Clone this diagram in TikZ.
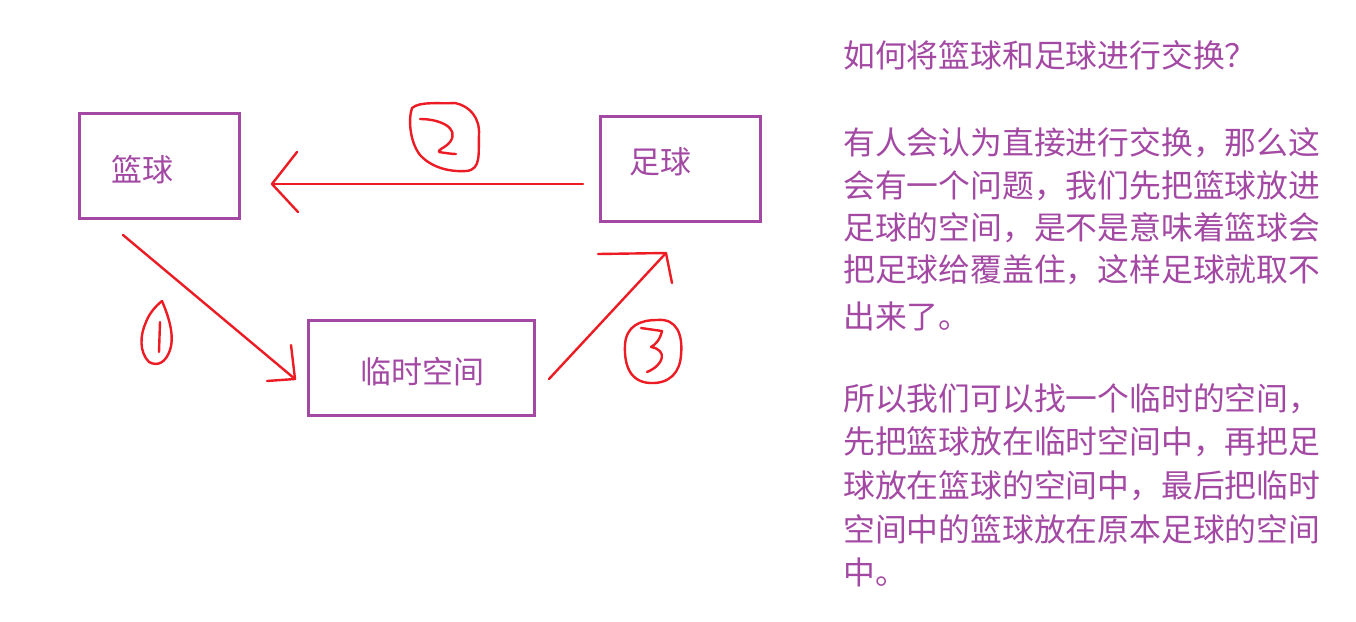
\documentclass[tikz,border=0pt]{standalone}
\usepackage{fontspec}
\newfontfamily\cjk{Noto Sans CJK SC}
\definecolor{pp}{RGB}{163,73,164}
\definecolor{rd}{RGB}{237,28,36}
\begin{document}
\begin{tikzpicture}[x=1pt,y=-1pt,
  box/.style={draw=pp,line width=3pt,inner sep=0pt},
  lbl/.style={text=pp,font=\cjk\fontsize{31}{31}\selectfont,inner sep=0pt},
  para/.style={text=pp,font=\cjk\fontsize{31.8}{32}\selectfont,inner sep=0pt,anchor=west},
  hand/.style={draw=rd,line width=2.4pt,line cap=round,line join=round}]
\useasboundingbox (0,0) rectangle (1356,621);
\fill[white] (0,0) rectangle (1356,621);
% boxes
\node[box,minimum width=160pt,minimum height=105pt] (lq) at (159,165.5) {};
\node[box,minimum width=160pt,minimum height=105pt] (zq) at (680,168.5) {};
\node[box,minimum width=226pt,minimum height=95pt] (ls) at (421,367.5) {};
\node[lbl] (lqt) at (142,170) {篮球};
\node[lbl] (zqt) at (660,162) {足球};
\node[lbl] (lst) at (422,372) {临时空间};
% arrow 2
\coordinate (a2s) at (583,184);
\coordinate (a2e) at (272,184);
\coordinate (a2u) at (297,152);
\coordinate (a2d) at (298,212);
\draw[hand] (a2s) -- (a2e);
\draw[hand] (a2u) -- (a2e) -- (a2d);
% arrow 1
\coordinate (a1s) at (123,235);
\coordinate (a1e) at (295,379);
\coordinate (a1u) at (291,345);
\coordinate (a1l) at (267,381);
\draw[hand] (a1s) -- (a1e);
\draw[hand] (a1u) -- (a1e) -- (a1l);
% arrow 3
\coordinate (a3s) at (549,379);
\coordinate (a3e) at (666,253);
\coordinate (a3l) at (598,254);
\coordinate (a3d) at (672,283);
\draw[hand] (a3s) -- (a3e);
\draw[hand] (a3l) -- (a3e) -- (a3d);
% circled 2
\draw[hand] (455,103) .. controls (470,106) and (480,118) .. (479,135)
  .. controls (478,152) and (482,170) .. (466,171)
  .. controls (450,172) and (432,168) .. (420,155)
  .. controls (410,142) and (408,120) .. (412,108)
  .. controls (420,101) and (440,104) .. (455,103);
\draw[hand] (420,119) .. controls (440,119) and (460,128) .. (450,142)
  .. controls (445,148) and (437,150) .. (439,152)
  .. controls (445,153) and (452,154) .. (456,154);
% circled 1
\draw[hand] (162,301) .. controls (168,315) and (175,335) .. (170,350)
  .. controls (166,362) and (158,367) .. (149,362)
  .. controls (139,352) and (140,335) .. (146,322)
  .. controls (150,312) and (156,306) .. (162,301);
\draw[hand] (160,322) -- (159,352);
% circled 3
\draw[hand] (657,320) .. controls (677,318) and (683,335) .. (681,355)
  .. controls (680,372) and (670,384) .. (650,383)
  .. controls (630,382) and (624,365) .. (625,345)
  .. controls (626,326) and (640,320) .. (657,320);
\draw[hand] (641,328) -- (662,331) .. controls (660,340) and (655,345) .. (651,347)
  .. controls (668,350) and (664,365) .. (647,372);
% paragraph text
\node[para] (t0) at (843,55) {如何将篮球和足球进行交换？};
\node[para] (t1) at (843,143) {有人会认为直接进行交换，那么这};
\node[para] (t2) at (843,186) {会有一个问题，我们先把篮球放进};
\node[para] (t3) at (843,228) {足球的空间，是不是意味着篮球会};
\node[para] (t4) at (843,270) {把足球给覆盖住，这样足球就取不};
\node[para] (t5) at (843,316) {出来了。};
\node[para] (t6) at (843,399) {所以我们可以找一个临时的空间，};
\node[para] (t7) at (843,442) {先把篮球放在临时空间中，再把足};
\node[para] (t8) at (843,486) {球放在篮球的空间中，最后把临时};
\node[para] (t9) at (843,529) {空间中的篮球放在原本足球的空间};
\node[para] (t10) at (843,572) {中。};
\end{tikzpicture}
\end{document}
